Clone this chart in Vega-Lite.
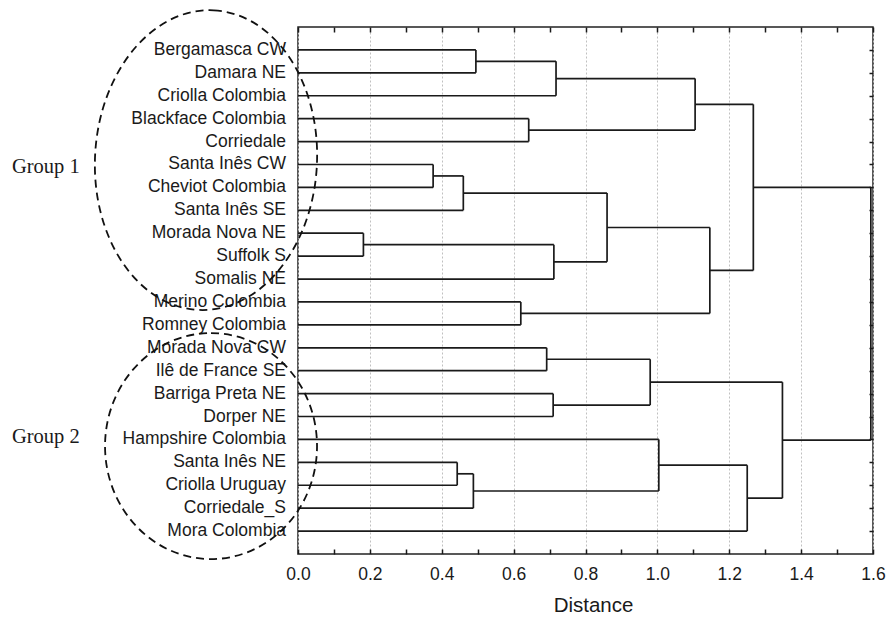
{
  "$schema": "https://vega.github.io/schema/vega-lite/v6.json",
  "width": 575,
  "height": 527,
  "autosize": {"type": "none"},
  "padding": {"left": 298, "top": 27, "right": 17, "bottom": 63},
  "background": "white",
  "config": {
    "view": {"stroke": "#222222", "strokeWidth": 1.5},
    "font": "Liberation Sans"
  },
  "datasets": {
    "segments": [
      {"d0": 0, "d1": 0.495, "p0": 1, "p1": 1},
      {"d0": 0, "d1": 0.495, "p0": 2, "p1": 2},
      {"d0": 0.495, "d1": 0.495, "p0": 1, "p1": 2},
      {"d0": 0.495, "d1": 0.718, "p0": 1.5, "p1": 1.5},
      {"d0": 0, "d1": 0.718, "p0": 3, "p1": 3},
      {"d0": 0.718, "d1": 0.718, "p0": 1.5, "p1": 3},
      {"d0": 0.718, "d1": 1.105, "p0": 2.25, "p1": 2.25},
      {"d0": 0, "d1": 0.642, "p0": 4, "p1": 4},
      {"d0": 0, "d1": 0.642, "p0": 5, "p1": 5},
      {"d0": 0.642, "d1": 0.642, "p0": 4, "p1": 5},
      {"d0": 0.642, "d1": 1.105, "p0": 4.5, "p1": 4.5},
      {"d0": 1.105, "d1": 1.105, "p0": 2.25, "p1": 4.5},
      {"d0": 1.105, "d1": 1.267, "p0": 3.375, "p1": 3.375},
      {"d0": 0, "d1": 0.376, "p0": 6, "p1": 6},
      {"d0": 0, "d1": 0.376, "p0": 7, "p1": 7},
      {"d0": 0.376, "d1": 0.376, "p0": 6, "p1": 7},
      {"d0": 0.376, "d1": 0.46, "p0": 6.5, "p1": 6.5},
      {"d0": 0, "d1": 0.46, "p0": 8, "p1": 8},
      {"d0": 0.46, "d1": 0.46, "p0": 6.5, "p1": 8},
      {"d0": 0.46, "d1": 0.86, "p0": 7.25, "p1": 7.25},
      {"d0": 0, "d1": 0.182, "p0": 9, "p1": 9},
      {"d0": 0, "d1": 0.182, "p0": 10, "p1": 10},
      {"d0": 0.182, "d1": 0.182, "p0": 9, "p1": 10},
      {"d0": 0.182, "d1": 0.712, "p0": 9.5, "p1": 9.5},
      {"d0": 0, "d1": 0.712, "p0": 11, "p1": 11},
      {"d0": 0.712, "d1": 0.712, "p0": 9.5, "p1": 11},
      {"d0": 0.712, "d1": 0.86, "p0": 10.25, "p1": 10.25},
      {"d0": 0.86, "d1": 0.86, "p0": 7.25, "p1": 10.25},
      {"d0": 0.86, "d1": 1.146, "p0": 8.75, "p1": 8.75},
      {"d0": 0, "d1": 0.62, "p0": 12, "p1": 12},
      {"d0": 0, "d1": 0.62, "p0": 13, "p1": 13},
      {"d0": 0.62, "d1": 0.62, "p0": 12, "p1": 13},
      {"d0": 0.62, "d1": 1.146, "p0": 12.5, "p1": 12.5},
      {"d0": 1.146, "d1": 1.146, "p0": 8.75, "p1": 12.5},
      {"d0": 1.146, "d1": 1.267, "p0": 10.625, "p1": 10.625},
      {"d0": 1.267, "d1": 1.267, "p0": 3.375, "p1": 10.625},
      {"d0": 1.267, "d1": 1.594, "p0": 7.0, "p1": 7.0},
      {"d0": 0, "d1": 0.692, "p0": 14, "p1": 14},
      {"d0": 0, "d1": 0.692, "p0": 15, "p1": 15},
      {"d0": 0.692, "d1": 0.692, "p0": 14, "p1": 15},
      {"d0": 0.692, "d1": 0.98, "p0": 14.5, "p1": 14.5},
      {"d0": 0, "d1": 0.71, "p0": 16, "p1": 16},
      {"d0": 0, "d1": 0.71, "p0": 17, "p1": 17},
      {"d0": 0.71, "d1": 0.71, "p0": 16, "p1": 17},
      {"d0": 0.71, "d1": 0.98, "p0": 16.5, "p1": 16.5},
      {"d0": 0.98, "d1": 0.98, "p0": 14.5, "p1": 16.5},
      {"d0": 0.98, "d1": 1.348, "p0": 15.5, "p1": 15.5},
      {"d0": 0, "d1": 1.004, "p0": 18, "p1": 18},
      {"d0": 0, "d1": 0.443, "p0": 19, "p1": 19},
      {"d0": 0, "d1": 0.443, "p0": 20, "p1": 20},
      {"d0": 0.443, "d1": 0.443, "p0": 19, "p1": 20},
      {"d0": 0.443, "d1": 0.488, "p0": 19.5, "p1": 19.5},
      {"d0": 0, "d1": 0.488, "p0": 21, "p1": 21},
      {"d0": 0.488, "d1": 0.488, "p0": 19.5, "p1": 21},
      {"d0": 0.488, "d1": 1.004, "p0": 20.25, "p1": 20.25},
      {"d0": 1.004, "d1": 1.004, "p0": 18, "p1": 20.25},
      {"d0": 1.004, "d1": 1.25, "p0": 19.125, "p1": 19.125},
      {"d0": 0, "d1": 1.25, "p0": 22, "p1": 22},
      {"d0": 1.25, "d1": 1.25, "p0": 19.125, "p1": 22},
      {"d0": 1.25, "d1": 1.348, "p0": 20.5625, "p1": 20.5625},
      {"d0": 1.348, "d1": 1.348, "p0": 15.5, "p1": 20.5625},
      {"d0": 1.348, "d1": 1.594, "p0": 18.03, "p1": 18.03},
      {"d0": 1.594, "d1": 1.594, "p0": 7.0, "p1": 18.03}
    ],
    "leaves": [
      {"name": "Bergamasca CW", "d": 0, "p": 1},
      {"name": "Damara NE", "d": 0, "p": 2},
      {"name": "Criolla Colombia", "d": 0, "p": 3},
      {"name": "Blackface Colombia", "d": 0, "p": 4},
      {"name": "Corriedale", "d": 0, "p": 5},
      {"name": "Santa Inês CW", "d": 0, "p": 6},
      {"name": "Cheviot Colombia", "d": 0, "p": 7},
      {"name": "Santa Inês SE", "d": 0, "p": 8},
      {"name": "Morada Nova NE", "d": 0, "p": 9},
      {"name": "Suffolk S", "d": 0, "p": 10},
      {"name": "Somalis NE", "d": 0, "p": 11},
      {"name": "Merino Colombia", "d": 0, "p": 12},
      {"name": "Romney Colombia", "d": 0, "p": 13},
      {"name": "Morada Nova CW", "d": 0, "p": 14},
      {"name": "Ilê de France SE", "d": 0, "p": 15},
      {"name": "Barriga Preta NE", "d": 0, "p": 16},
      {"name": "Dorper NE", "d": 0, "p": 17},
      {"name": "Hampshire Colombia", "d": 0, "p": 18},
      {"name": "Santa Inês NE", "d": 0, "p": 19},
      {"name": "Criolla Uruguay", "d": 0, "p": 20},
      {"name": "Corriedale_S", "d": 0, "p": 21},
      {"name": "Mora Colombia", "d": 0, "p": 22}
    ],
    "groups": [
      {"g": "Group 1", "d": -0.796, "p": 6.1, "cd": -0.256, "cp": 5.81},
      {"g": "Group 2", "d": -0.796, "p": 17.9, "cd": -0.242, "cp": 18.29}
    ]
  },
  "resolve": {"axis": {"x": "independent", "y": "independent"}},
  "layer": [
    {
      "data": {"name": "segments"},
      "mark": {"type": "rule", "color": "#1a1a1a", "strokeWidth": 1.7},
      "encoding": {
        "x": {
          "field": "d0", "type": "quantitative",
          "scale": {"domain": [0, 1.6], "nice": false, "zero": false},
          "axis": {
            "orient": "bottom",
            "title": "Distance",
            "titleFont": "Liberation Sans",
            "titleFontSize": 20.5,
            "titleFontWeight": "normal",
            "titleColor": "#1a1a1a",
            "titlePadding": 13,
            "titleX": 295,
            "values": [0, 0.1, 0.2, 0.3, 0.4, 0.5, 0.6, 0.7, 0.8, 0.9, 1.0, 1.1, 1.2, 1.3, 1.4, 1.5, 1.6],
            "labelExpr": "round(datum.value*10) % 2 == 0 ? format(datum.value, '.1f') : ''",
            "labelFont": "Liberation Sans",
            "labelFontSize": 17.5,
            "labelColor": "#1a1a1a",
            "labelPadding": 16,
            "labelFlush": false,
            "labelOverlap": false,
            "domain": false,
            "ticks": true,
            "tickSize": -5,
            "tickColor": "#1a1a1a",
            "tickWidth": 1.5,
            "grid": true,
            "gridColor": "#c0c0c0",
            "gridDash": [2, 2],
            "gridWidth": 1,
            "gridOpacity": {"condition": {"test": "round(datum.value*10) % 2 == 1", "value": 0}, "value": 1}
          }
        },
        "x2": {"field": "d1"},
        "y": {
          "field": "p0", "type": "quantitative",
          "scale": {"domain": [0, 23], "reverse": true, "nice": false, "zero": false},
          "axis": {
            "orient": "right",
            "title": null,
            "values": [1, 2, 3, 4, 5, 6, 7, 8, 9, 10, 11, 12, 13, 14, 15, 16, 17, 18, 19, 20, 21, 22],
            "labels": false,
            "domain": false,
            "grid": false,
            "ticks": true,
            "tickSize": -4,
            "tickColor": "#1a1a1a",
            "tickWidth": 1.5
          }
        },
        "y2": {"field": "p1"}
      }
    },
    {
      "data": {"name": "leaves"},
      "mark": {"type": "text", "align": "right", "baseline": "middle", "dx": -12, "font": "Liberation Sans", "fontSize": 17.5, "color": "#1a1a1a"},
      "encoding": {
        "x": {
          "field": "d", "type": "quantitative",
          "scale": {"domain": [0, 1.6], "nice": false, "zero": false},
          "axis": {
            "orient": "top",
            "title": null,
            "values": [0, 0.1, 0.2, 0.3, 0.4, 0.5, 0.6, 0.7, 0.8, 0.9, 1.0, 1.1, 1.2, 1.3, 1.4, 1.5, 1.6],
            "labels": false,
            "domain": false,
            "grid": false,
            "ticks": true,
            "tickSize": -5,
            "tickColor": "#1a1a1a",
            "tickWidth": 1.5
          }
        },
        "y": {
          "field": "p", "type": "quantitative",
          "scale": {"domain": [0, 23], "reverse": true, "nice": false, "zero": false},
          "axis": null
        },
        "text": {"field": "name"}
      }
    },
    {
      "data": {"name": "groups"},
      "mark": {"type": "text", "align": "left", "baseline": "middle", "font": "Liberation Serif", "fontSize": 20.5, "color": "#1a1a1a"},
      "encoding": {
        "x": {"field": "d", "type": "quantitative", "scale": {"domain": [0, 1.6], "nice": false, "zero": false}, "axis": null},
        "y": {"field": "p", "type": "quantitative", "scale": {"domain": [0, 23], "reverse": true, "nice": false, "zero": false}, "axis": null},
        "text": {"field": "g"}
      }
    },
    {
      "data": {"name": "groups"},
      "transform": [{"filter": "datum.g == 'Group 1'"}],
      "mark": {
        "type": "point",
        "shape": "M0,-1C0.409,-1,0.74,-0.552,0.74,0C0.74,0.552,0.409,1,0,1C-0.409,1,-0.74,0.552,-0.74,0C-0.74,-0.552,-0.409,-1,0,-1Z",
        "size": 90000,
        "angle": 3,
        "filled": false,
        "stroke": "#111111",
        "strokeWidth": 1.8,
        "strokeDash": [8, 5],
        "opacity": 1
      },
      "encoding": {
        "x": {"field": "cd", "type": "quantitative", "scale": {"domain": [0, 1.6], "nice": false, "zero": false}, "axis": null},
        "y": {"field": "cp", "type": "quantitative", "scale": {"domain": [0, 23], "reverse": true, "nice": false, "zero": false}, "axis": null}
      }
    },
    {
      "data": {"name": "groups"},
      "transform": [{"filter": "datum.g == 'Group 2'"}],
      "mark": {
        "type": "point",
        "shape": "M0,-1C0.518,-1,0.938,-0.552,0.938,0C0.938,0.552,0.518,1,0,1C-0.518,1,-0.938,0.552,-0.938,0C-0.938,-0.552,-0.518,-1,0,-1Z",
        "size": 51076,
        "filled": false,
        "stroke": "#111111",
        "strokeWidth": 1.8,
        "strokeDash": [8, 5],
        "opacity": 1
      },
      "encoding": {
        "x": {"field": "cd", "type": "quantitative", "scale": {"domain": [0, 1.6], "nice": false, "zero": false}, "axis": null},
        "y": {"field": "cp", "type": "quantitative", "scale": {"domain": [0, 23], "reverse": true, "nice": false, "zero": false}, "axis": null}
      }
    }
  ]
}
